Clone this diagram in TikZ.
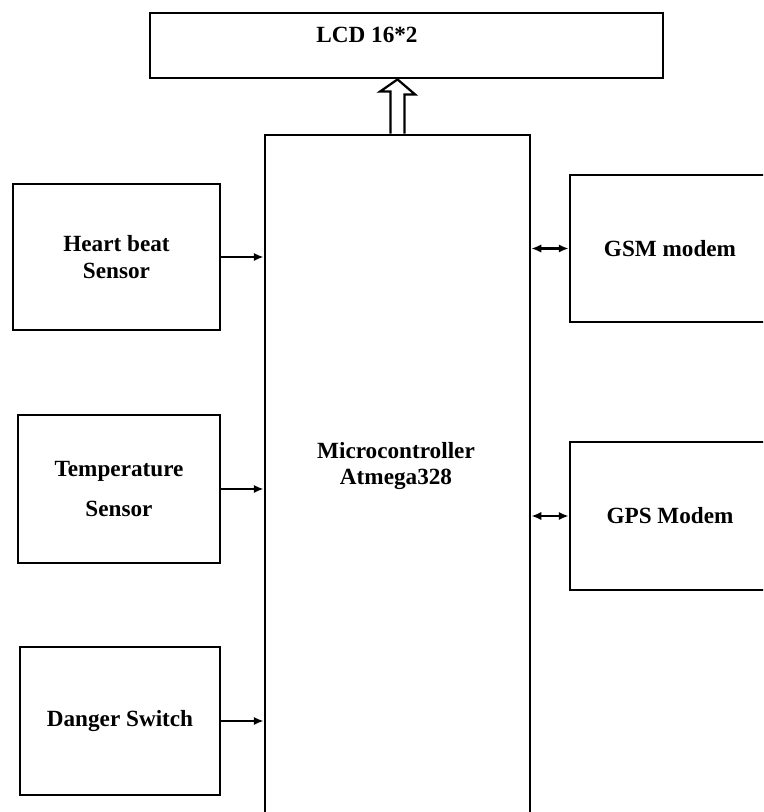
\documentclass[tikz,border=0pt]{standalone}
\usepackage{fontspec}
\setmainfont{Liberation Serif}
\usetikzlibrary{arrows.meta}

\begin{document}
\begin{tikzpicture}[x=1cm,y=-1cm,
  block/.style={draw, line width=2pt, inner sep=0pt, align=center,
    font=\fontsize{16.5}{19}\selectfont\bfseries},
  lbl/.style={inner sep=0pt, align=center, font=\fontsize{16.5}{19}\selectfont\bfseries},
  wire/.style={line width=2pt, -{Latex[length=7pt,width=6pt]}},
  both/.style={line width=2pt, {Latex[length=7pt,width=6pt]}-{Latex[length=7pt,width=6pt]}},
  hollow/.style={draw, line width=1.6pt, fill=white}]
  \useasboundingbox (0,0) rectangle (19.075,20.3);
  \clip (0,0) rectangle (19.075,20.3);

  % display and controller
  \node[block, minimum width=12.825cm, minimum height=1.625cm] (lcd) at (10.1625,1.1375) {};
  \node[lbl] (lcdtext) at (9.175,0.88) {LCD 16*2};
  \node[block, minimum width=6.625cm, minimum height=17.625cm] (mcu) at (9.9375,12.1875) {};
  \node[lbl] (mcutext) at (9.9,11.65) {Microcontroller\\Atmega328};

  % inputs
  \node[block, minimum width=5.175cm, minimum height=3.65cm] (heart) at (2.9125,6.425) {Heart beat\\Sensor};
  \node[block, minimum width=5.05cm, minimum height=3.7cm] (temp) at (2.975,12.225) {Temperature\\[9pt]Sensor};
  \node[block, minimum width=5cm, minimum height=3.7cm] (danger) at (3,18.025) {Danger Switch};

  % modems
  \node[block, minimum width=5cm, minimum height=3.675cm] (gsm) at (16.75,6.2125) {GSM modem};
  \node[block, minimum width=5cm, minimum height=3.7cm] (gps) at (16.75,12.9) {GPS Modem};

  \draw[wire] (heart.east) -- (heart.east -| mcu.west);
  \draw[wire] (temp.east) -- (temp.east -| mcu.west);
  \draw[wire] (danger.east) -- (danger.east -| mcu.west);
  \draw[both] (gsm.west -| mcu.east) -- (gsm.west);
  \draw[both] (gps.west -| mcu.east) -- (gps.west);

  \coordinate (up1) at (mcu.north |- lcd.south);
  \draw[hollow] ([xshift=-0.175cm]mcu.north) -- ++(0,-1.05) -- ++(-0.2625,0) -- (up1)
    -- ++(0.4375,0.375) -- ++(-0.2625,0) -- ([xshift=0.175cm]mcu.north);
\end{tikzpicture}
\end{document}
